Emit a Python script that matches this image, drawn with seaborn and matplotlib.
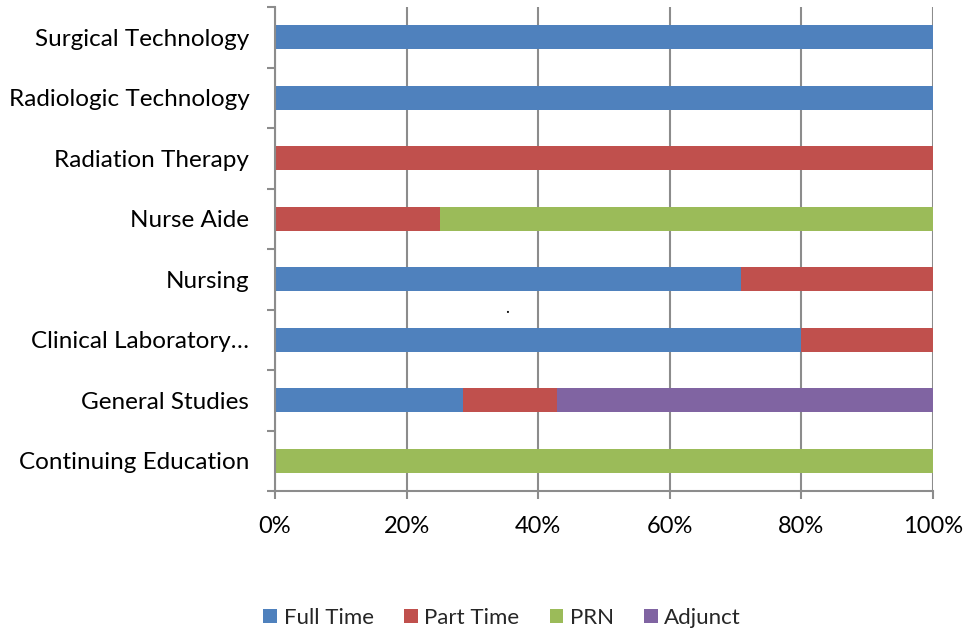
import matplotlib
matplotlib.use("Agg")
import matplotlib.pyplot as plt
import seaborn as sns
import pandas as pd
import numpy as np
from matplotlib.patches import Patch
from matplotlib.ticker import FixedLocator, PercentFormatter

categories = ["Surgical Technology", "Radiologic Technology", "Radiation Therapy",
              "Nurse Aide", "Nursing", "Clinical Laboratory\u2026", "General Studies",
              "Continuing Education"]
full_time = [1.00, 1.00, 0.00, 0.00, 0.708, 0.80, 0.286, 0.00]
part_time = [0.00, 0.00, 1.00, 0.25, 0.292, 0.20, 0.143, 0.00]
prn = [0.00, 0.00, 0.00, 0.75, 0.00, 0.00, 0.00, 1.00]
adjunct = [0.00, 0.00, 0.00, 0.00, 0.00, 0.00, 0.571, 0.00]
series_names = ["Full Time", "Part Time", "PRN", "Adjunct"]
colors = ["#4F81BD", "#C0504D", "#9BBB59", "#8064A2"]

sns.set_theme(style="white")
plt.rcParams["font.family"] = ["Lato", "DejaVu Sans"]

df = pd.DataFrame({"category": categories, "Full Time": full_time,
                   "Part Time": part_time, "PRN": prn, "Adjunct": adjunct})
cum = df[series_names].cumsum(axis=1)

fig = plt.figure(figsize=(9.66, 6.31), dpi=100)
ax = fig.add_axes([275/966, 1-491/631, (933-275)/966, (491-7)/631])

# draw cumulative bars from longest to shortest for stacking
for name, col in reversed(list(zip(series_names, colors))):
    sns.barplot(x=cum[name], y=df["category"], order=categories, orient="h",
                color=col, width=0.4, ax=ax, saturation=1, linewidth=0)

ax.set_xlim(0, 1)
ax.set_ylim(7.5, -0.5)
ax.set_xlabel("")
ax.set_ylabel("")

ax.xaxis.set_major_locator(FixedLocator([0, 0.2, 0.4, 0.6, 0.8, 1.0]))
ax.xaxis.set_major_formatter(PercentFormatter(1.0, decimals=0))
ax.grid(axis="x", color="#8C8C8C", linewidth=1.5)
ax.set_axisbelow(True)

for s in ["top", "right"]:
    ax.spines[s].set_visible(False)
for s in ["left", "bottom"]:
    ax.spines[s].set_color("#8C8C8C")
    ax.spines[s].set_linewidth(1.5)

ax.tick_params(axis="x", which="major", direction="out", length=6, width=1.5,
               color="#8C8C8C", labelsize=17, pad=12, bottom=True, labelcolor="black")
ax.tick_params(axis="y", which="major", length=0, labelsize=17.5, pad=18.5, labelcolor="black")
ax.yaxis.set_minor_locator(FixedLocator(np.arange(-0.5, 8.0, 1.0)))
ax.tick_params(axis="y", which="minor", direction="out", length=6, width=1.5,
               color="#8C8C8C", left=True)

ax.text(0.3526, 4.60, ".", fontsize=12, ha="center", va="bottom", color="black")

handles = [Patch(facecolor=c, edgecolor="none", label=n) for n, c in zip(series_names, colors)]
fig.legend(handles=handles, loc="center", bbox_to_anchor=(0.52, 1-618/631), ncol=4,
           frameon=False, fontsize=16, handlelength=0.62, handleheight=0.62,
           handletextpad=0.3, columnspacing=1.35)

fig.savefig("out.png", dpi=100)
